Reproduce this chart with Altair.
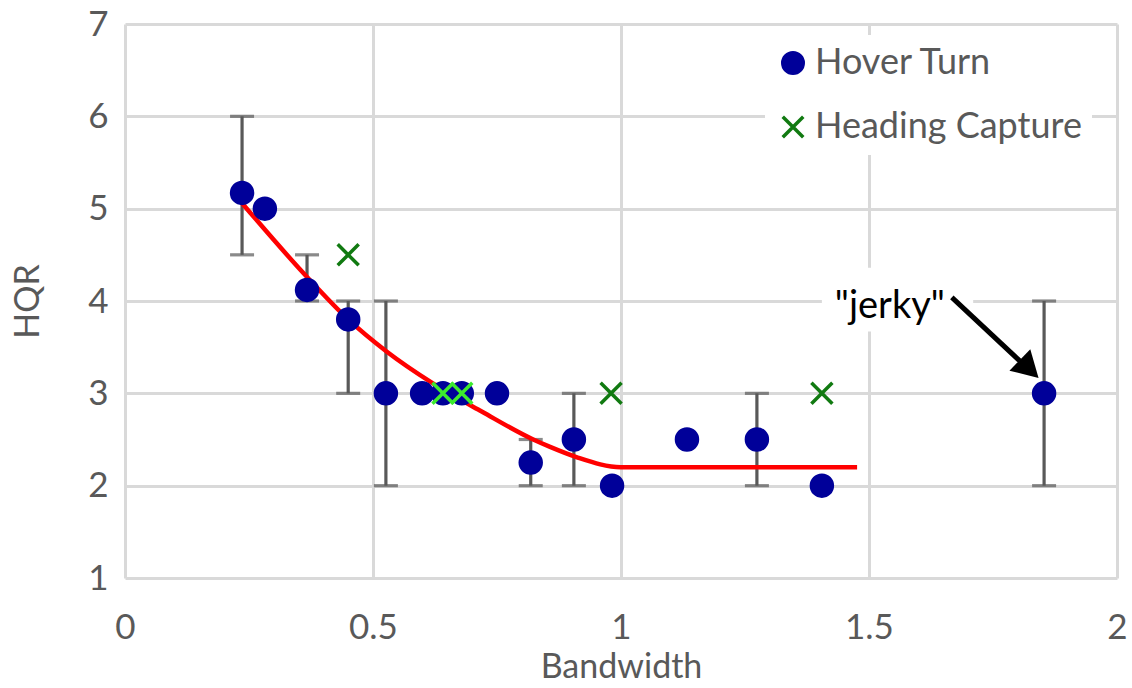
import altair as alt
import pandas as pd

# ---- data ----
ht_x = [0.236, 0.282, 0.367, 0.450, 0.526, 0.599, 0.641, 0.679, 0.750, 0.818, 0.905, 0.982, 1.133, 1.274, 1.405, 1.853]
ht_y = [5.17, 5.0, 4.12, 3.8, 3.0, 3.0, 3.0, 3.0, 3.0, 2.25, 2.5, 2.0, 2.5, 2.5, 2.0, 3.0]

hc_x = [0.450, 0.980, 1.405]
hc_y = [4.5, 3.0, 3.0]

hc_light_x = [0.641, 0.679]
hc_light_y = [3.0, 3.0]

err_x = [0.236, 0.367, 0.450, 0.526, 0.818, 0.905, 1.274, 1.853]
err_lo = [4.5, 4.0, 3.0, 2.0, 2.0, 2.0, 2.0, 2.0]
err_hi = [6.0, 4.5, 4.0, 4.0, 2.5, 3.0, 3.0, 4.0]

fit_x = [0.236, 0.367, 0.450, 0.528, 0.620, 0.720, 0.823, 0.857, 0.910, 1.000, 1.476]
fit_y = [5.06, 4.26, 3.80, 3.45, 3.11, 2.80, 2.50, 2.42, 2.31, 2.20, 2.20]

series_names = ["Hover Turn", "Heading Capture"]

# annotation ("jerky" label with arrow)
note_text = ['"jerky"']
note_x = [1.542]
note_y = [3.82]
box_x, box_x2, box_y, box_y2 = [1.405], [1.71], [3.67], [4.36]
arrow_x, arrow_y, arrow_x2, arrow_y2 = [1.667], [4.04], [1.804], [3.351]
head_x, head_y = [1.823], [3.264]

FONT = "Lato"
GREY = "#595959"
NAVY = "#000099"
GREEN = "#117a11"
LIME = "#3dea2e"
XPATH = "M-1,-1L1,1M-1,1L1,-1"

pts = pd.DataFrame({
    "x": ht_x + hc_x,
    "y": ht_y + hc_y,
    "series": ["Hover Turn"] * len(ht_x) + ["Heading Capture"] * len(hc_x),
    "order": list(range(len(ht_x) + len(hc_x))),
})
light = pd.DataFrame({"x": hc_light_x, "y": hc_light_y})
err = pd.DataFrame({"x": err_x, "lo": err_lo, "hi": err_hi})
fit = pd.DataFrame({"x": fit_x, "y": fit_y})
note = pd.DataFrame({"x": note_x, "y": note_y, "t": note_text})
box = pd.DataFrame({"x": box_x, "x2": box_x2, "y": box_y, "y2": box_y2})
arrow = pd.DataFrame({"x": arrow_x, "y": arrow_y, "x2": arrow_x2, "y2": arrow_y2})
head = pd.DataFrame({"x": head_x, "y": head_y})

xs = alt.Scale(domain=[0, 2], nice=False)
ys = alt.Scale(domain=[1, 7], nice=False)

xaxis = alt.Axis(values=[0, 0.5, 1, 1.5, 2], format=".1~f", title="Bandwidth",
                 labelPadding=32, titlePadding=5, labelFlush=False)
yaxis = alt.Axis(values=[1, 2, 3, 4, 5, 6, 7], format="d", title="HQR", labelPadding=17,
                 titleX=-97, titleY=277, titleAngle=-90, titleAlign="center",
                 titleBaseline="middle", labelFlush=False)

boxes = alt.Chart(box).mark_rect(color="white").encode(
    x=alt.X("x:Q", scale=xs, axis=xaxis), x2="x2", y=alt.Y("y:Q", scale=ys, axis=yaxis), y2="y2")

bars = alt.Chart(err).mark_rule(color=GREY, strokeWidth=3.2).encode(
    x=alt.X("x:Q", scale=xs), y=alt.Y("lo:Q", scale=ys), y2="hi")
cap_lo = alt.Chart(err).mark_tick(color=GREY, orient="horizontal", size=24, thickness=3.2).encode(
    x=alt.X("x:Q", scale=xs), y=alt.Y("lo:Q", scale=ys))
cap_hi = alt.Chart(err).mark_tick(color=GREY, orient="horizontal", size=24, thickness=3.2).encode(
    x=alt.X("x:Q", scale=xs), y=alt.Y("hi:Q", scale=ys))

curve = alt.Chart(fit).mark_line(color="#ff0000", strokeWidth=4.5, interpolate="monotone").encode(
    x=alt.X("x:Q", scale=xs), y=alt.Y("y:Q", scale=ys))

legend = alt.Legend(title=None, orient="none", legendX=640, legendY=11, padding=10,
                    fillColor="white", labelFont=FONT, labelFontSize=36, labelColor=GREY,
                    labelLimit=500, rowPadding=28, symbolSize=420, symbolStrokeWidth=3.5,
                    labelOffset=4)

points = alt.Chart(pts).mark_point(size=440, strokeWidth=3.5, opacity=1).encode(
    x=alt.X("x:Q", scale=xs), y=alt.Y("y:Q", scale=ys),
    color=alt.Color("series:N", scale=alt.Scale(domain=series_names, range=[NAVY, GREEN]), legend=legend),
    fill=alt.Fill("series:N", scale=alt.Scale(domain=series_names, range=[NAVY, "transparent"]), legend=legend),
    shape=alt.Shape("series:N", scale=alt.Scale(domain=series_names, range=["circle", XPATH]), legend=legend),
    order="order:Q",
)

light_pts = alt.Chart(light).mark_point(shape=XPATH, size=440, strokeWidth=3.5, color=LIME, opacity=1).encode(
    x=alt.X("x:Q", scale=xs), y=alt.Y("y:Q", scale=ys))

note_txt = alt.Chart(note).mark_text(font=FONT, fontSize=38, color="black", align="center",
                                     baseline="alphabetic").encode(
    x=alt.X("x:Q", scale=xs), y=alt.Y("y:Q", scale=ys), text="t:N")
arrow_line = alt.Chart(arrow).mark_rule(color="black", strokeWidth=5).encode(
    x=alt.X("x:Q", scale=xs), y=alt.Y("y:Q", scale=ys), x2="x2", y2="y2")
arrow_head = alt.Chart(head).mark_point(shape="triangle-up", size=900, angle=134, filled=True,
                                        color="black", opacity=1).encode(
    x=alt.X("x:Q", scale=xs), y=alt.Y("y:Q", scale=ys))

chart = alt.layer(boxes, bars, cap_lo, cap_hi, curve, points, light_pts, note_txt, arrow_line, arrow_head).properties(
    width=992, height=554,
    background="white",
    autosize=alt.AutoSizeParams(type="none"),
    padding={"left": 125, "top": 24, "right": 15, "bottom": 110},
).configure_view(stroke=None).configure_axis(
    grid=True, gridColor="#d9d9d9", gridWidth=3, domain=False, ticks=False,
    labelFont=FONT, labelFontSize=35, labelColor=GREY,
    titleFont=FONT, titleFontSize=34, titleColor=GREY, titleFontWeight="normal",
)

chart.save("out.html", embed_options={"renderer": "svg", "actions": False})
